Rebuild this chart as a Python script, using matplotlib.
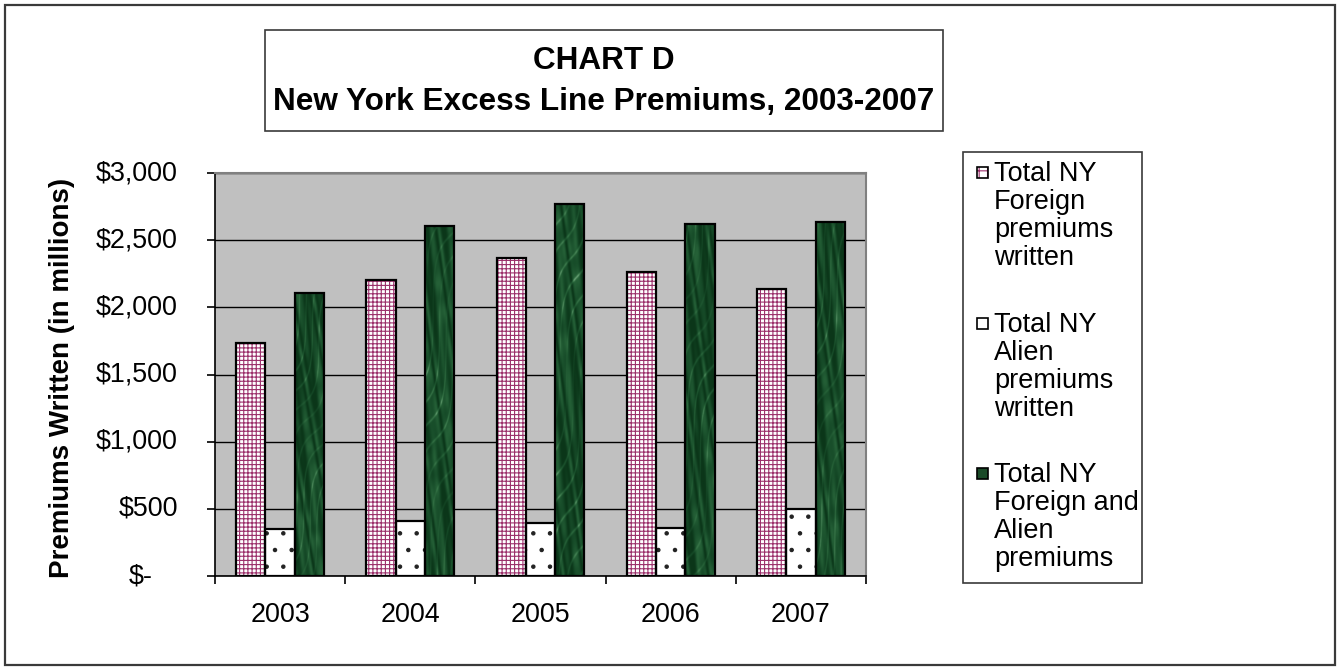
import numpy as np
import matplotlib
matplotlib.use("Agg")
import matplotlib.pyplot as plt
from matplotlib.patches import Rectangle
from matplotlib.colors import LinearSegmentedColormap
import matplotlib.transforms as mtransforms

# ---- data (millions of dollars) ----
years = ["2003", "2004", "2005", "2006", "2007"]
foreign = [1735, 2207, 2369, 2265, 2136]
alien = [353, 410, 398, 356, 500]
total = [2103, 2605, 2767, 2620, 2635]

series_labels = [
    "Total NY\nForeign\npremiums\nwritten",
    "Total NY\nAlien\npremiums\nwritten",
    "Total NY\nForeign and\nAlien\npremiums",
]
y_ticks = [0, 500, 1000, 1500, 2000, 2500, 3000]
y_tick_labels = ["$-", "$500", "$1,000", "$1,500", "$2,000", "$2,500", "$3,000"]
title_lines = ["CHART D", "New York Excess Line Premiums, 2003-2007"]
y_label = "Premiums Written (in millions)"

# ---- styling ----
plt.rcParams['font.family'] = ['Liberation Sans', 'DejaVu Sans']
plt.rcParams['hatch.linewidth'] = 0.8

W, H = 1338, 667
PLUM = '#9b2f6a'
TICK_FS = 19.4
LEG_FS = 19.5
fig = plt.figure(figsize=(W / 100, H / 100), dpi=100)
fig.patch.set_facecolor('white')


def fx(px):
    return px / W


def fy(py):
    return 1 - py / H


def fig_rect(x0, y0, x1, y1, **kw):
    r = Rectangle((fx(x0), fy(y1)), fx(x1) - fx(x0), fy(y0) - fy(y1),
                  transform=fig.transFigure, **kw)
    fig.add_artist(r)
    return r


# outer frame
fig_rect(5, 5, 1335, 665, fill=False, edgecolor='#3a3a3a', lw=1.6)

# plot area
ax = fig.add_axes([fx(215), fy(576), fx(866) - fx(215), (576 - 173) / H])
ax.set_facecolor('#C0C0C0')
ax.set_axisbelow(True)
ax.yaxis.grid(True, color='black', lw=1.0)
for s in ('top', 'right'):
    ax.spines[s].set_color('#808080')
    ax.spines[s].set_linewidth(1.5)
for s in ('left', 'bottom'):
    ax.spines[s].set_color('black')
    ax.spines[s].set_linewidth(1.2)

x = np.arange(len(years))
bw = 0.225

# foreign: white with plum grid
ax.bar(x - bw, foreign, bw, color='white', edgecolor=PLUM, hatch='++++', lw=0, zorder=2)
ax.bar(x - bw, foreign, bw, fill=False, edgecolor='black', lw=1.6, zorder=3)

# alien: white with sparse dots
ax.bar(x, alien, bw, color='white', edgecolor='#222222', hatch='.', lw=0, zorder=2)
ax.bar(x, alien, bw, fill=False, edgecolor='black', lw=1.6, zorder=3)

# total: marbled dark green
green_cmap = LinearSegmentedColormap.from_list(
    'marble', ['#0b3619', '#174c29', '#245f36', '#3f7d4f', '#8abb94'])
tot_bars = ax.bar(x + bw, total, bw, facecolor='#1a4a28', edgecolor='black', lw=1.6, zorder=3)
yy, xx = np.mgrid[0:1:400j, 0:1:60j]
for i, patch in enumerate(tot_bars):
    ph = 1.7 * i + 0.4
    base = 0.5 + 0.5 * np.sin(17 * yy + 6 * xx + 3 * np.sin(9 * xx + 13 * yy + ph))
    mott = 0.5 + 0.5 * np.sin(29 * yy - 11 * xx + 2 * np.sin(23 * yy + 5 * xx - ph))
    vein = np.exp(-(np.sin(24 * yy - 9 * xx + 2.5 * np.sin(9 * yy + 2 * xx + ph)) ** 2) / 0.04)
    tex = 0.32 * base + 0.25 * mott * base + 0.45 * vein * (0.4 + 0.6 * np.sin(5 * yy + ph) ** 2)
    x0 = patch.get_x()
    im = ax.imshow(tex, cmap=green_cmap, vmin=0, vmax=1.1, aspect='auto',
                   extent=[x0, x0 + patch.get_width(), 0, patch.get_height()],
                   origin='lower', interpolation='bilinear', zorder=2.9)
    im.set_clip_path(patch)
for patch in tot_bars:
    patch.set_facecolor('none')

ax.set_xlim(-0.5, len(years) - 0.5)
ax.set_ylim(0, 3000)

# x axis: labels at centers, tick marks at category boundaries
ax.set_xticks(x)
ax.set_xticklabels(years, fontsize=TICK_FS)
ax.tick_params(axis='x', which='major', length=0, pad=19)
ax.set_xticks(np.arange(-0.5, len(years)), minor=True)
ax.tick_params(axis='x', which='minor', length=6, width=1.2, direction='out', color='black')

# y axis: outward ticks, accounting-style labels
ax.set_yticks(y_ticks)
ax.set_yticklabels([])
ax.tick_params(axis='y', length=6, width=1.2, direction='out', color='black')
for v, lab in zip(y_ticks, y_tick_labels):
    shift = -62 if v == 0 else -37
    tr = ax.get_yaxis_transform() + mtransforms.ScaledTranslation(shift / 100, 0, fig.dpi_scale_trans)
    ax.text(0, v, lab, transform=tr, ha='right', va='center', fontsize=TICK_FS)

fig.text(fx(62), fy(378), y_label, rotation=90, ha='center', va='center',
         fontsize=20, fontweight='bold')

# title box
fig_rect(265, 30, 943, 131, facecolor='white', edgecolor='#3a3a3a', lw=1.2)
fig.text(fx(604), fy(69), title_lines[0], ha='center', va='baseline',
         fontsize=22.7, fontweight='bold')
fig.text(fx(604), fy(110), title_lines[1], ha='center', va='baseline',
         fontsize=22.7, fontweight='bold')

# legend box
fig_rect(963, 152, 1142, 583, facecolor='white', edgecolor='#3a3a3a', lw=1.2)
first_line = [172, 323, 473]
line_step = 28
handle_kw = [
    dict(facecolor='white', edgecolor=PLUM, hatch='++', lw=0),
    dict(facecolor='white', edgecolor='black', lw=1.2),
    dict(facecolor='#1a4a28', edgecolor='black', lw=1.2),
]
for yc, lab, kw in zip(first_line, series_labels, handle_kw):
    fig_rect(977, yc - 5, 988, yc + 6, **kw)
    if kw.get('lw') == 0:
        fig_rect(977, yc - 5, 988, yc + 6, fill=False, edgecolor='black', lw=1.2)
    for k, line in enumerate(lab.split("\n")):
        fig.text(fx(994), fy(yc + 9 + k * line_step), line, ha='left', va='baseline',
                 fontsize=LEG_FS)

fig.savefig("out.png", dpi=100, facecolor='white')
